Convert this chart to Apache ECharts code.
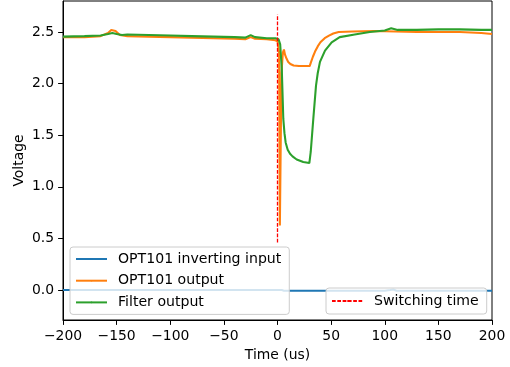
<!DOCTYPE html>
<html>
<head>
<meta charset="utf-8">
<script src="https://cdn.jsdelivr.net/npm/echarts@6/dist/echarts.min.js"></script>
<style>
html,body{margin:0;padding:0;background:#fff;}
#chart{width:510px;height:367px;}
</style>
</head>
<body>
<div id="chart"></div>
<script>
// ---- data ----
var xTicks = [-200, -150, -100, -50, 0, 50, 100, 150, 200];
var yTicks = [0.0, 0.5, 1.0, 1.5, 2.0, 2.5];

var invT = [-200, -150, -100, -50, 0, 4, 6, 50, 100, 105, 108, 111, 150, 200];
var invV = [0.0, 0.0, 0.0, 0.0, 0.0, 0.0, -0.006, -0.006, -0.006, 0.0, 0.006, -0.006, -0.006, -0.006];

var outT = [-200, -180, -165, -158, -155, -151, -147, -140, -120, -100, -80, -60, -40, -30, -25, -21, -10, -2, 0, 1.5, 2.2, 3.0, 3.7, 5, 6, 7, 8.5, 10, 12, 15, 20, 30, 31, 33, 35, 37.5, 40, 44, 48, 52, 57, 70, 90, 110, 130, 150, 170, 180, 190, 200];
var outV = [2.45, 2.45, 2.46, 2.49, 2.52, 2.51, 2.47, 2.46, 2.455, 2.45, 2.445, 2.44, 2.435, 2.43, 2.45, 2.435, 2.43, 2.42, 2.41, 2.3, 0.625, 0.625, 2.1, 2.30, 2.33, 2.28, 2.24, 2.21, 2.19, 2.175, 2.17, 2.17, 2.2, 2.26, 2.31, 2.36, 2.40, 2.44, 2.465, 2.485, 2.50, 2.505, 2.51, 2.505, 2.50, 2.50, 2.50, 2.495, 2.49, 2.48];

var filT = [-200, -180, -165, -158, -154, -150, -145, -140, -120, -100, -80, -60, -40, -30, -25, -21, -10, -2, 1, 2.5, 4, 5.4, 6.5, 7.6, 9.5, 11.7, 14, 17.9, 24, 29.7, 31, 33.4, 35.9, 37.5, 39.6, 44.3, 50.5, 58, 72, 86, 100, 106, 112, 130, 150, 170, 190, 200];
var filV = [2.455, 2.46, 2.465, 2.48, 2.49, 2.48, 2.47, 2.475, 2.47, 2.465, 2.46, 2.455, 2.45, 2.445, 2.47, 2.45, 2.44, 2.44, 2.43, 2.38, 2.14, 1.66, 1.52, 1.43, 1.36, 1.32, 1.295, 1.265, 1.24, 1.23, 1.34, 1.66, 1.98, 2.10, 2.21, 2.32, 2.40, 2.45, 2.475, 2.50, 2.515, 2.535, 2.52, 2.52, 2.525, 2.525, 2.52, 2.52];

var switchT = [0, 0];
var switchV = [0.46, 2.67];

var seriesNames = ['OPT101 inverting input', 'OPT101 output', 'Filter output', 'Switching time'];
// ---- end data ----

function zip(a, b) { return a.map(function (v, i) { return [v, b[i]]; }); }

var font = 'DejaVu Sans';
var fs = 13.9;
var chart = echarts.init(document.getElementById('chart'), null, {renderer: 'canvas'});

var legendBase = {
  orient: 'vertical',
  itemWidth: 31,
  itemHeight: 2,
  itemGap: 7.7,
  backgroundColor: 'rgba(255,255,255,0.8)',
  borderColor: '#cccccc',
  borderWidth: 1,
  borderRadius: 3,
  padding: [5, 8, 5, 5],
  itemStyle: {borderWidth: 0},
  textStyle: {fontFamily: font, fontSize: 14.1, color: '#000', padding: [0, 0, 0, 6]}
};

var lw = 2.08;

chart.setOption({
  animation: false,
  backgroundColor: '#fff',
  grid: {left: 63, right: 18, top: 1, bottom: 45, show: true, borderColor: '#000', borderWidth: 1, backgroundColor: 'transparent'},
  legend: [
    Object.assign({}, legendBase, {left: 70, top: 247, data: seriesNames.slice(0, 3)}),
    Object.assign({}, legendBase, {left: 326, top: 288, padding: [6, 8, 6, 5], data: [seriesNames[3]]})
  ],
  xAxis: {
    type: 'value', min: -200, max: 200, interval: 50,
    name: 'Time (us)', nameLocation: 'middle', nameGap: 28, nameMoveOverlap: false,
    nameTextStyle: {fontFamily: font, fontSize: fs, color: '#000'},
    axisLine: {show: true, onZero: false, lineStyle: {color: '#000', width: 1}},
    axisTick: {show: true, inside: false, length: 4.9, lineStyle: {color: '#000', width: 1}},
    axisLabel: {fontFamily: font, fontSize: fs, color: '#000', margin: 9,
      formatter: function (v) { return String(v).replace('-', '\u2212'); }},
    splitLine: {show: false}
  },
  yAxis: {
    type: 'value', min: -0.29, max: 2.80,
    name: 'Voltage', nameLocation: 'middle', nameGap: 37, nameRotate: 90, nameMoveOverlap: false,
    nameTextStyle: {fontFamily: font, fontSize: fs, color: '#000'},
    axisLine: {show: true, onZero: false, lineStyle: {color: '#000', width: 1}},
    axisTick: {show: true, inside: false, length: 4.9, lineStyle: {color: '#000', width: 1}, customValues: yTicks},
    axisLabel: {fontFamily: font, fontSize: fs, color: '#000', margin: 9, customValues: yTicks,
      formatter: function (v) { return v.toFixed(1); }},
    splitLine: {show: false}
  },
  series: [
    {name: seriesNames[0], type: 'line', symbol: 'none', data: zip(invT, invV), lineStyle: {color: '#1f77b4', width: lw}, itemStyle: {color: '#1f77b4'}},
    {name: seriesNames[1], type: 'line', symbol: 'none', data: zip(outT, outV), lineStyle: {color: '#ff7f0e', width: lw}, itemStyle: {color: '#ff7f0e'}},
    {name: seriesNames[2], type: 'line', symbol: 'none', data: zip(filT, filV), lineStyle: {color: '#2ca02c', width: lw}, itemStyle: {color: '#2ca02c'}},
    {name: seriesNames[3], type: 'line', symbol: 'none', data: zip(switchT, switchV), lineStyle: {color: '#ff0000', width: 1.3, type: [3.7, 1.6]}, itemStyle: {color: '#ff0000'}}
  ]
});
</script>
</body>
</html>
